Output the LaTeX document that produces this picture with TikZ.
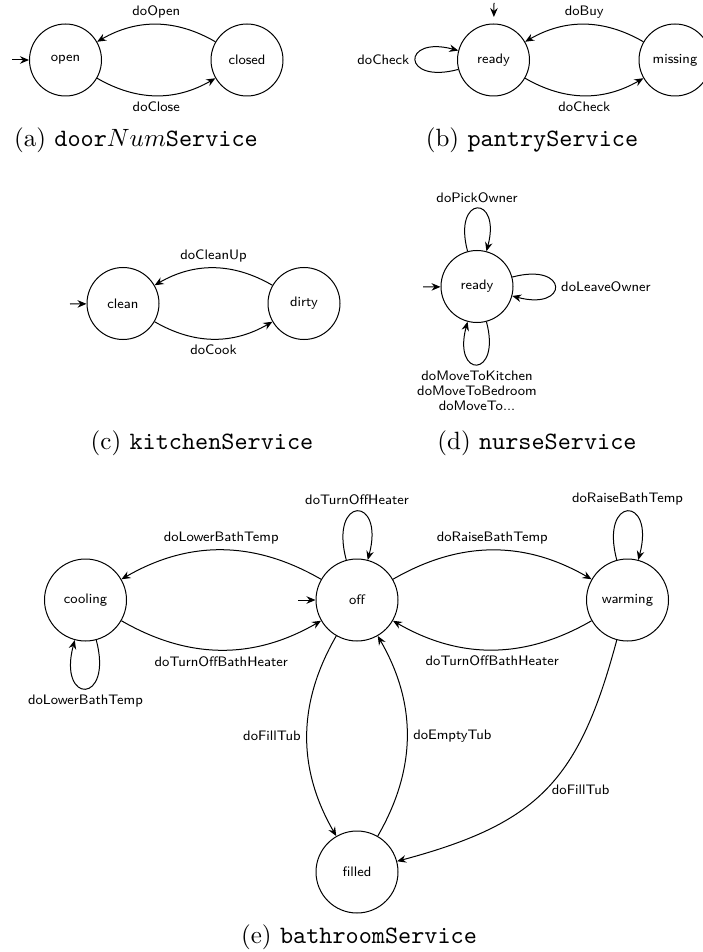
\documentclass[tikz,border=0pt]{standalone}
\usetikzlibrary{arrows.meta}
\newcommand\labfont{\fontsize{5.5}{6}\selectfont\sffamily}
\begin{document}
\begin{tikzpicture}[x=0.4pt,y=0.4pt,
  st/.style={circle, draw, minimum size=28.8pt, inner sep=0pt, font=\labfont},
  bst/.style={st, minimum size=32.8pt},
  tr/.style={draw, -{Stealth[length=3.6pt,width=3pt,inset=1.2pt]}},
  el/.style={font=\labfont, inner sep=2.3pt},
  captn/.style={font=\fontsize{10}{12}\selectfont}]
\useasboundingbox (0,0) rectangle (702,-952);

% (a)
\node[st] (aopen) at (65.5,-60) {open};
\node[st] (aclosed) at (247,-60) {closed};
\coordinate (ainit) at (12,-60);
\draw[tr] (ainit) -- (aopen);
\draw[tr] (aclosed) to[out=150,in=30] node[el,above]{doOpen} (aopen);
\draw[tr] (aopen) to[out=-30,in=210] node[el,below]{doClose} (aclosed);
\node[captn] (capa) at (136,-140) {(a) \texttt{door}$Num$\texttt{Service}};

% (b)
\node[st] (bready) at (493.5,-60) {ready};
\node[st] (bmiss) at (675,-60) {missing};
\coordinate (binit) at (494,-3);
\draw[tr, shorten >=2.6pt] (binit) -- (bready);
\draw[tr] (bmiss) to[out=150,in=30] node[el,above]{doBuy} (bready);
\draw[tr] (bready) to[out=-30,in=210] node[el,below]{doCheck} (bmiss);
\draw[tr] (bready) to[out=195,in=165,looseness=8] node[el,left]{doCheck} (bready);
\node[captn] (capb) at (532,-140) {(b) \texttt{pantryService}};

% (c)
\node[st] (cclean) at (123,-303.5) {clean};
\node[st] (cdirty) at (304,-303.5) {dirty};
\coordinate (cinit) at (70,-304);
\draw[tr] (cinit) -- (cclean);
\draw[tr] (cdirty) to[out=150,in=30] node[el,above]{doCleanUp} (cclean);
\draw[tr] (cclean) to[out=-30,in=210] node[el,below]{doCook} (cdirty);
\node[captn] (capc) at (202,-443) {(c) \texttt{kitchenService}};

% (d)
\node[st] (dready) at (477,-286.5) {ready};
\coordinate (dinit) at (423,-287);
\draw[tr] (dinit) -- (dready);
\draw[tr] (dready) to[out=105,in=75,looseness=8] node[el,above]{doPickOwner} (dready);
\draw[tr] (dready) to[out=15,in=345,looseness=8] node[el,right]{doLeaveOwner} (dready);
\draw[tr] (dready) to[out=285,in=255,looseness=8] node[el,below,align=center]{doMoveToKitchen\\doMoveToBedroom\\doMoveTo...} (dready);
\node[captn] (capd) at (537,-443) {(d) \texttt{nurseService}};

% (e)
\node[bst] (ecool) at (85.5,-600) {cooling};
\node[bst] (eoff) at (357,-600) {off};
\node[bst] (ewarm) at (627.5,-600) {warming};
\node[bst] (efill) at (357,-872) {filled};
\coordinate (einit) at (298,-600);
\draw[tr] (einit) -- (eoff);
\draw[tr] (eoff) to[out=150,in=30] node[el,above]{doLowerBathTemp} (ecool);
\draw[tr] (ecool) to[out=-30,in=210] node[el,below]{doTurnOffBathHeater} (eoff);
\draw[tr] (eoff) to[out=30,in=150] node[el,above]{doRaiseBathTemp} (ewarm);
\draw[tr] (ewarm) to[out=210,in=-30] node[el,below]{doTurnOffBathHeater} (eoff);
\draw[tr] (eoff) to[out=105,in=75,looseness=8] node[el,above]{doTurnOffHeater} (eoff);
\draw[tr] (ewarm) to[out=105,in=75,looseness=8] node[el,above]{doRaiseBathTemp} (ewarm);
\draw[tr] (ecool) to[out=285,in=255,looseness=8] node[el,below]{doLowerBathTemp} (ecool);
\draw[tr] (eoff) to[out=240,in=120] node[el,left]{doFillTub} (efill);
\draw[tr] (efill) to[out=60,in=300] node[el,right]{doEmptyTub} (eoff);
\draw[tr] (ewarm) to[out=255,in=15,looseness=1.2] node[el,right,pos=0.5]{doFillTub} (efill);
\node[captn] (cape) at (359,-937) {(e) \texttt{bathroomService}};
\end{tikzpicture}
\end{document}
